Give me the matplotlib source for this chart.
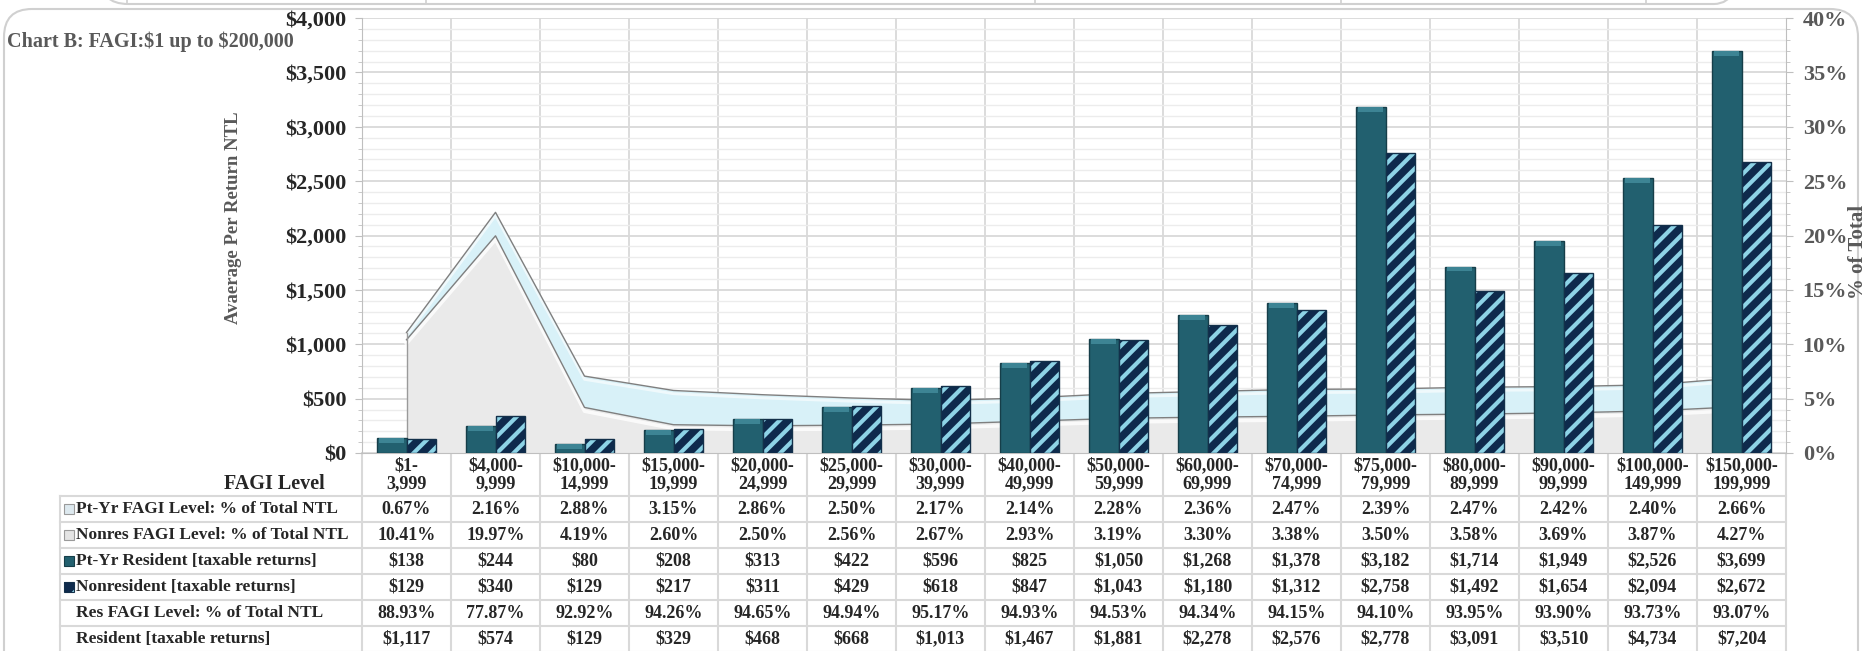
import numpy as np
import matplotlib
matplotlib.use("Agg")
import matplotlib.pyplot as plt
from matplotlib.patches import Rectangle, FancyBboxPatch
from matplotlib.ticker import MultipleLocator, FuncFormatter

categories = [
    "$1-\n3,999", "$4,000-\n9,999", "$10,000-\n14,999", "$15,000-\n19,999",
    "$20,000-\n24,999", "$25,000-\n29,999", "$30,000-\n39,999", "$40,000-\n49,999",
    "$50,000-\n59,999", "$60,000-\n69,999", "$70,000-\n74,999", "$75,000-\n79,999",
    "$80,000-\n89,999", "$90,000-\n99,999", "$100,000-\n149,999", "$150,000-\n199,999",
]
ptyr_pct = [0.67, 2.16, 2.88, 3.15, 2.86, 2.50, 2.17, 2.14, 2.28, 2.36, 2.47, 2.39, 2.47, 2.42, 2.40, 2.66]
nonres_pct = [10.41, 19.97, 4.19, 2.60, 2.50, 2.56, 2.67, 2.93, 3.19, 3.30, 3.38, 3.50, 3.58, 3.69, 3.87, 4.27]
ptyr_res = [138, 244, 80, 208, 313, 422, 596, 825, 1050, 1268, 1378, 3182, 1714, 1949, 2526, 3699]
nonres = [129, 340, 129, 217, 311, 429, 618, 847, 1043, 1180, 1312, 2758, 1492, 1654, 2094, 2672]
res_pct = [88.93, 77.87, 92.92, 94.26, 94.65, 94.94, 95.17, 94.93, 94.53, 94.34, 94.15, 94.10, 93.95, 93.90, 93.73, 93.07]
resident = [1117, 574, 129, 329, 468, 668, 1013, 1467, 1881, 2278, 2576, 2778, 3091, 3510, 4734, 7204]

row_labels = [
    "Pt-Yr FAGI Level: % of Total NTL",
    "Nonres FAGI Level: % of Total NTL",
    "Pt-Yr Resident [taxable returns]",
    "Nonresident [taxable returns]",
    "Res FAGI Level: % of Total NTL",
    "Resident [taxable returns]",
]

TEAL = "#22606f"
NAVY = "#0e2a4c"
STRIPE = "#8dd3e6"
GRID = "#d9d9d9"
DARK_TXT = "#262626"
GREY_TXT = "#595959"

plt.rcParams["font.family"] = ["Liberation Serif", "DejaVu Serif"]
plt.rcParams["font.weight"] = "bold"
plt.rcParams["hatch.linewidth"] = 3.0

W, H = 1866, 651
fig = plt.figure(figsize=(W / 100, H / 100), dpi=100)

# pixel-space layer for frame and data table
bg = fig.add_axes([0, 0, 1, 1], zorder=0)
bg.set_xlim(0, W)
bg.set_ylim(H, 0)
bg.axis("off")

PL, PR, PT, PB = 362, 1786, 18, 453
rect = [PL / W, 1 - PB / H, (PR - PL) / W, (PB - PT) / H]
ax_pct = fig.add_axes(rect, zorder=1)
ax_usd = fig.add_axes(rect, zorder=2, sharex=ax_pct)
ax_usd.patch.set_visible(False)

n = len(categories)
x = np.arange(n)
ax_pct.set_xlim(-0.5, n - 0.5)
ax_pct.set_ylim(0, 40)
ax_usd.set_ylim(0, 4000)

# grid (lives on the bottom axes so the areas cover it)
ax_pct.yaxis.set_major_locator(MultipleLocator(5))
ax_pct.yaxis.set_minor_locator(MultipleLocator(1))
ax_pct.grid(which="major", axis="y", color=GRID, lw=1.3, zorder=0)
ax_pct.grid(which="minor", axis="y", color="#ececec", lw=1.0, zorder=0)
ax_pct.set_axisbelow(True)
for b in np.arange(0.5, n - 0.5, 1):
    ax_pct.axvline(b, color=GRID, lw=1.3, zorder=0.5)

# stacked areas on the % axis
nonres_arr = np.array(nonres_pct)
top = nonres_arr + np.array(ptyr_pct)
ax_pct.fill_between(x, 0, nonres_arr, color="#eaeaea", lw=0, zorder=2)
ax_pct.fill_between(x, nonres_arr, top, color="#d8f1f8", lw=0, zorder=2)
ax_pct.plot(x, nonres_arr - 0.35, color="white", lw=2.5, alpha=0.8, zorder=2.5)
ax_pct.plot(x, top - 0.3, color="white", lw=2.0, alpha=0.6, zorder=2.5)
ax_pct.plot(x, nonres_arr, color="#7f7f7f", lw=1.0, zorder=3)
ax_pct.plot(x, top, color="#7f7f7f", lw=1.0, zorder=3)
ax_pct.plot([0, 0], [0, top[0]], color="#9a9a9a", lw=1.0, zorder=3)

# bars on the $ axis
w = 0.33
ax_usd.bar(x - w / 2, ptyr_res, w, color=TEAL, edgecolor="#163e49", lw=1, zorder=3)
# light bevel along the top of the solid bars
bevel = np.minimum(np.array(ptyr_res) * 0.5, 45)
ax_usd.bar(x - w / 2, bevel, w * 0.86, bottom=np.array(ptyr_res) - bevel,
           color="#3d8494", lw=0, zorder=3.5)
ax_usd.bar(x + w / 2, nonres, w, color=NAVY, edgecolor=STRIPE, hatch="//", lw=0, zorder=3)
ax_usd.bar(x + w / 2, nonres, w, fill=False, edgecolor="#13304a", lw=1, zorder=4)

# axes styling
for a in (ax_pct, ax_usd):
    a.spines["top"].set_visible(False)
    a.tick_params(axis="x", which="both", bottom=False, labelbottom=False)
ax_pct.spines["left"].set_visible(False)
ax_pct.spines["right"].set_color("#bfbfbf")
ax_pct.spines["bottom"].set_color("#bfbfbf")
ax_usd.spines["right"].set_visible(False)
ax_usd.spines["bottom"].set_visible(False)
ax_usd.spines["left"].set_color("#bfbfbf")

ax_pct.yaxis.tick_right()
ax_pct.yaxis.set_major_formatter(FuncFormatter(lambda v, p: f"{v:.0f}%"))
ax_pct.tick_params(axis="y", which="major", length=5, pad=7, colors="#bfbfbf",
                   labelcolor=GREY_TXT, labelsize=16)
ax_pct.tick_params(axis="y", which="minor", length=3, colors="#bfbfbf")

ax_usd.yaxis.set_major_locator(MultipleLocator(500))
ax_usd.yaxis.set_minor_locator(MultipleLocator(100))
ax_usd.yaxis.set_major_formatter(FuncFormatter(lambda v, p: f"${v:,.0f}"))
ax_usd.tick_params(axis="y", which="major", length=5, pad=6, colors="#bfbfbf",
                   labelcolor=DARK_TXT, labelsize=16)
ax_usd.tick_params(axis="y", which="minor", length=3, colors="#bfbfbf")

# titles
bg.text(7, 42, "Chart B: FAGI:$1 up to $200,000", ha="left", va="center",
        fontsize=14.5, color=GREY_TXT, parse_math=False)
bg.text(234, 218, "Avaerage Per Return NTL", rotation=90, ha="center", va="center",
        fontsize=13.5, color=GREY_TXT)
bg.text(1858, 252, "% of Total", rotation=90, ha="center", va="center",
        fontsize=15, color=GREY_TXT)

# frame
bg.add_patch(FancyBboxPatch((4, 9), 1854, 700, boxstyle="round,pad=0,rounding_size=28",
                            fc="none", ec="#d0d0d0", lw=1.5))
bg.add_patch(FancyBboxPatch((100, -80), 1642, 84, boxstyle="round,pad=0,rounding_size=28",
                            fc="none", ec="#d0d0d0", lw=1.5))
for dx in [127, 426, 1035, 1341, 1646]:
    bg.plot([dx, dx], [0, 4], color="#d0d0d0", lw=1.2)

# ---- data table ----
cat_w = (PR - PL) / n
centers = PL + cat_w * (x + 0.5)
TL = 60
HEAD_TOP = PB
ROW0 = 496
RH = 26
row_tops = [ROW0 + RH * i for i in range(len(row_labels) + 1)]

for yy in row_tops:
    bg.plot([TL, PR], [yy, yy], color=GRID, lw=1.5)
bg.plot([TL, TL], [ROW0, H + 5], color=GRID, lw=1.5)
for xx in [PL + cat_w * i for i in range(n + 1)]:
    bg.plot([xx, xx], [HEAD_TOP, H + 5], color=GRID, lw=1.5)

for cx, lab in zip(centers, categories):
    bg.text(cx, 475, lab, ha="center", va="center", fontsize=13, color=DARK_TXT,
            linespacing=1.05)
bg.text(274, 484, "FAGI Level", ha="center", va="center", fontsize=14.5, color=DARK_TXT)

rows_values = [
    [f"{v:.2f}%" for v in ptyr_pct],
    [f"{v:.2f}%" for v in nonres_pct],
    [f"${v:,.0f}" for v in ptyr_res],
    [f"${v:,.0f}" for v in nonres],
    [f"{v:.2f}%" for v in res_pct],
    [f"${v:,.0f}" for v in resident],
]
for i, (lab, vals) in enumerate(zip(row_labels, rows_values)):
    cy = row_tops[i] + RH / 2
    bg.text(76, cy, lab, ha="left", va="center", fontsize=12.5, color=DARK_TXT)
    for cx, s in zip(centers, vals):
        bg.text(cx, cy, s, ha="center", va="center", fontsize=13, color=DARK_TXT)

# legend keys in the table
ks = 10
key_x = 64
keys = [
    dict(fc="#dde9ef", ec="#9a9a9a"),
    dict(fc="#e4e4e4", ec="#9a9a9a"),
    dict(fc=TEAL, ec="#163e49"),
]
for i, k in enumerate(keys):
    cy = row_tops[i] + RH / 2
    bg.add_patch(Rectangle((key_x, cy - ks / 2), ks, ks, lw=0.8, **k))
cy = row_tops[3] + RH / 2
bg.add_patch(Rectangle((key_x, cy - ks / 2), ks, ks, fc=NAVY, ec=STRIPE, hatch="/", lw=0))
bg.add_patch(Rectangle((key_x, cy - ks / 2), ks, ks, fill=False, ec="#13304a", lw=0.8))

fig.savefig("out.png", dpi=100)
